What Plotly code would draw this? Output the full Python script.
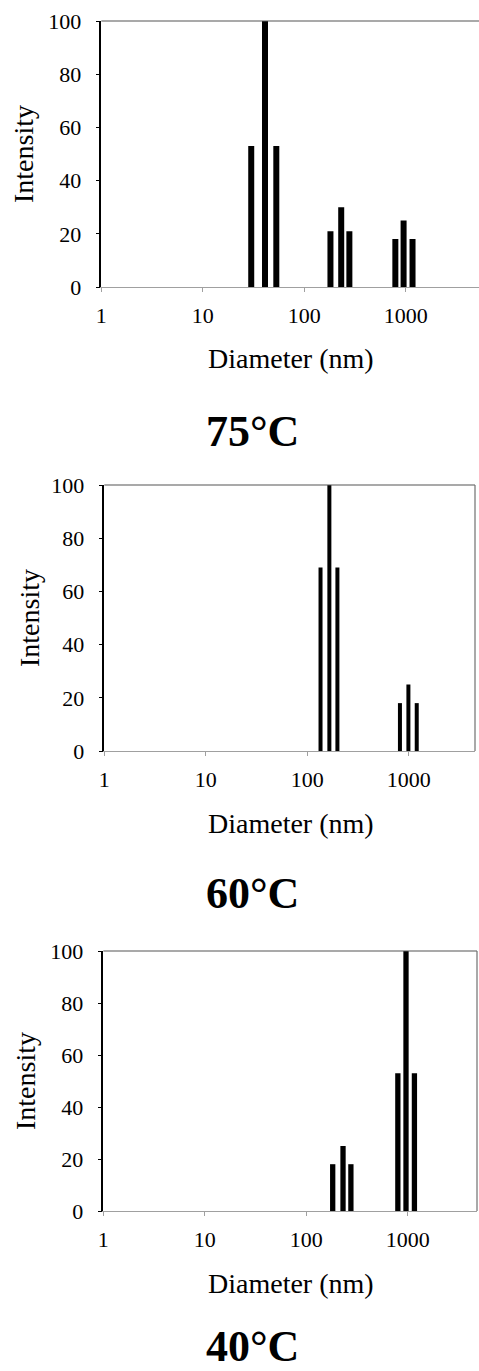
import plotly.graph_objects as go

W, H = 479, 1371

# ---- data ----
diam_75 = [30, 41, 53, 181, 231, 278, 789, 951, 1165]
int_75 = [53, 100, 53, 21, 30, 21, 18, 25, 18]
diam_60 = [135, 165, 198, 818, 991, 1197]
int_60 = [69, 100, 69, 18, 25, 18]
diam_40 = [182, 230, 275, 798, 960, 1162]
int_40 = [18, 25, 18, 53, 100, 53]
titles = ["75°C", "60°C", "40°C"]
x_tick_vals = [1, 10, 100, 1000]
x_tick_text = ["1", "10", "100", "1000"]
y_tick_vals = [0, 20, 40, 60, 80, 100]
x_title = "Diameter (nm)"
y_title = "Intensity"

series = [(diam_75, int_75), (diam_60, int_60), (diam_40, int_40)]

# ---- panel geometry in pixels: left, right, top, bottom, bar width ----
panels = [
    dict(l=101.3, r=479.0, t=21, b=287, bw=6.0, xt=291, xty=358, yt=23, title_y=431),
    dict(l=104.3, r=475.0, t=485, b=751, bw=4.0, xt=291, xty=823, yt=29, title_y=893),
    dict(l=103.3, r=477.0, t=951, b=1211, bw=5.3, xt=291, xty=1283, yt=25, title_y=1346),
]

FONT = "Liberation Serif, Times New Roman, serif"
fig = go.Figure()
shapes = []
annotations = []

for i, ((xs, ys), p) in enumerate(zip(series, panels)):
    n = "" if i == 0 else str(i + 1)
    xa, ya = "x" + n, "y" + n
    px, py = [], []
    for d, v in zip(xs, ys):
        px += [d, d, None]
        py += [0, v, None]
    fig.add_trace(go.Scatter(x=px, y=py, mode="lines", xaxis=xa, yaxis=ya,
                             line=dict(color="black", width=p["bw"]),
                             showlegend=False, hoverinfo="skip"))
    dx = [p["l"] / W, min(p["r"] / W, 1.0)]
    dy = [1 - p["b"] / H, 1 - p["t"] / H]
    decade = 101.5
    xmax = (p["r"] - p["l"]) / decade
    fig.update_layout(**{
        "xaxis" + n: dict(domain=dx, anchor=ya, type="log", range=[0, xmax],
                          automargin=False,
                          tickvals=x_tick_vals, ticktext=x_tick_text,
                          showgrid=False, zeroline=False, showline=True,
                          linecolor="#a0a0a0", linewidth=1.2,
                          ticks="outside", ticklen=4, tickcolor="#a0a0a0", tickwidth=1,
                          tickfont=dict(family=FONT, size=22, color="black"),
                          ticklabelstandoff=4),
        "yaxis" + n: dict(domain=dy, anchor=xa, range=[0, 100],
                          automargin=False,
                          tickvals=y_tick_vals, showgrid=False, zeroline=False,
                          showline=True, linecolor="black", linewidth=1.5,
                          ticks="outside", ticklen=4, tickcolor="black", tickwidth=1,
                          tickfont=dict(family=FONT, size=22, color="black"),
                          ticklabelstandoff=10),
    })
    shapes.append(dict(type="line", xref=xa + " domain", yref=ya + " domain",
                       x0=0, x1=1, y0=1, y1=1, line=dict(color="#555555", width=1.2)))
    if p["r"] < W - 1:
        shapes.append(dict(type="line", xref=xa + " domain", yref=ya + " domain",
                           x0=1, x1=1, y0=0, y1=1, line=dict(color="#707070", width=1.2)))
    annotations.append(dict(text=x_title, xref="paper", yref="paper",
                            x=p["xt"] / W, y=1 - p["xty"] / H, xanchor="center",
                            yanchor="middle", showarrow=False,
                            font=dict(family=FONT, size=28, color="black")))
    annotations.append(dict(text=y_title, xref="paper", yref="paper",
                            x=p["yt"] / W, y=1 - (p["t"] + p["b"]) / 2 / H,
                            xanchor="center", yanchor="middle", textangle=-90,
                            showarrow=False,
                            font=dict(family=FONT, size=28, color="black")))
    annotations.append(dict(text="<b>" + titles[i] + "</b>", xref="paper", yref="paper",
                            x=252 / W, y=1 - p["title_y"] / H, xanchor="center",
                            yanchor="middle", showarrow=False,
                            font=dict(family=FONT, size=44, color="black")))

fig.update_layout(width=W, height=H,
                  margin=dict(l=0, r=0, t=0, b=0, pad=0, autoexpand=False),
                  paper_bgcolor="white", plot_bgcolor="white",
                  shapes=shapes, annotations=annotations)

fig.write_html("out.html", config={"displayModeBar": False},
               post_script="document.body.style.margin='0';document.body.style.overflow='hidden';")
